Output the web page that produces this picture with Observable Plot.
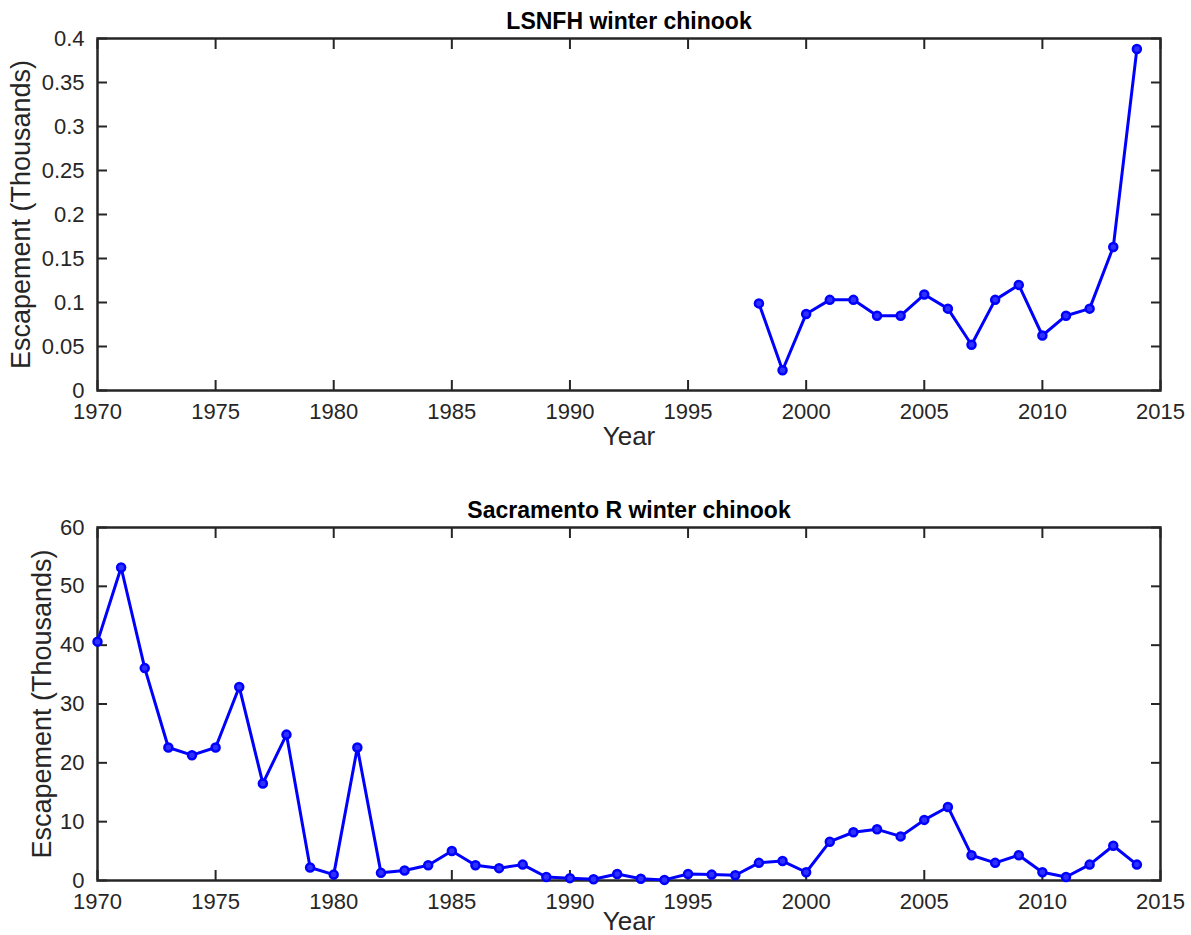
<!DOCTYPE html>
<html>
<head>
<meta charset="utf-8">
<script src="https://cdn.jsdelivr.net/npm/d3@7"></script>
<script src="https://cdn.jsdelivr.net/npm/@observablehq/plot@0.6"></script>
<style>
  html, body { margin: 0; padding: 0; background: #fff; }
  #wrap { width: 1191px; height: 935px; overflow: hidden; }
  svg { display: block; font-family: "Liberation Sans", Arial, Helvetica, sans-serif; }
</style>
</head>
<body>
<div id="wrap"></div>
<script>
// ---- data ----
const titleTop = "LSNFH winter chinook";
const titleBottom = "Sacramento R winter chinook";
const xLabel = "Year";
const yLabel = "Escapement (Thousands)";

const xTicks = [1970, 1975, 1980, 1985, 1990, 1995, 2000, 2005, 2010, 2015];
const yTicksTop = [0, 0.05, 0.1, 0.15, 0.2, 0.25, 0.3, 0.35, 0.4];
const yTicksBottom = [0, 10, 20, 30, 40, 50, 60];

const yearsLSNFH = [1998, 1999, 2000, 2001, 2002, 2003, 2004, 2005, 2006, 2007, 2008, 2009, 2010, 2011, 2012, 2013, 2014];
const escLSNFH = [0.099, 0.023, 0.087, 0.103, 0.103, 0.085, 0.085, 0.109, 0.093, 0.052, 0.103, 0.120, 0.0625, 0.085, 0.093, 0.163, 0.388];

const yearsSac = [1970, 1971, 1972, 1973, 1974, 1975, 1976, 1977, 1978, 1979,
                  1980, 1981, 1982, 1983, 1984, 1985, 1986, 1987, 1988, 1989,
                  1990, 1991, 1992, 1993, 1994, 1995, 1996, 1997, 1998, 1999,
                  2000, 2001, 2002, 2003, 2004, 2005, 2006, 2007, 2008, 2009,
                  2010, 2011, 2012, 2013, 2014];
const escSac = [40.6, 53.2, 36.1, 22.6, 21.3, 22.6, 32.9, 16.5, 24.8, 2.2,
                1.0, 22.6, 1.3, 1.7, 2.6, 5.0, 2.6, 2.1, 2.7, 0.6,
                0.4, 0.2, 1.1, 0.3, 0.1, 1.1, 1.0, 0.9, 3.0, 3.3,
                1.4, 6.6, 8.2, 8.7, 7.5, 10.3, 12.5, 4.3, 3.0, 4.3,
                1.4, 0.6, 2.7, 5.9, 2.7];

// ---- styling ----
const ink = "#262626";
const lineColor = "#0000ff";
const font = "\"Liberation Sans\", Arial, Helvetica, sans-serif";

function panel({years, values, yDomain, yTicks, yFmt, title, height, marginTop, marginBottom, yLabelDx, xLabelDy}) {
  const data = years.map((x, i) => ({x, y: values[i]}));
  return Plot.plot({
    width: 1191,
    height,
    marginLeft: 97,
    marginRight: 31,
    marginTop,
    marginBottom,
    style: {fontFamily: font, color: ink, background: "#fff", overflow: "visible"},
    x: {domain: [1970, 2015]},
    y: {domain: yDomain},
    marks: [
      Plot.axisX({anchor: "bottom", ticks: xTicks, tickFormat: d3.format("d"), tickSize: -10, tickPadding: 23, fontSize: 22, label: null, strokeWidth: 2, stroke: ink, fill: ink}),
      Plot.axisX({anchor: "top", ticks: xTicks, tickFormat: () => "", tickSize: -10, label: null, strokeWidth: 2, stroke: ink}),
      Plot.axisY({anchor: "left", ticks: yTicks, tickFormat: yFmt, tickSize: -10, tickPadding: 23, fontSize: 22, label: null, strokeWidth: 2, stroke: ink, fill: ink}),
      Plot.axisY({anchor: "right", ticks: yTicks, tickFormat: () => "", tickSize: -10, label: null, strokeWidth: 2, stroke: ink}),
      Plot.frame({stroke: ink, strokeWidth: 2.5}),
      Plot.line(data, {x: "x", y: "y", stroke: lineColor, strokeWidth: 3}),
      Plot.dot(data, {x: "x", y: "y", r: 4, stroke: lineColor, strokeWidth: 2.5, fill: "#3030ff"}),
      Plot.text([title], {frameAnchor: "top", dy: -10, lineAnchor: "bottom", fontSize: 23, fontWeight: "bold", fill: "#000"}),
      Plot.text([xLabel], {frameAnchor: "bottom", dy: xLabelDy, lineAnchor: "bottom", fontSize: 26, fill: ink}),
      Plot.text([yLabel], {frameAnchor: "left", dx: yLabelDx, rotate: -90, lineAnchor: "middle", textAnchor: "middle", fontSize: 27, fill: ink})
    ]
  });
}

const wrap = document.getElementById("wrap");
wrap.appendChild(panel({
  years: yearsLSNFH, values: escLSNFH, yDomain: [0, 0.4], yTicks: yTicksTop,
  yFmt: d => String(+d.toFixed(2)), title: titleTop,
  height: 467, marginTop: 38, marginBottom: 77, yLabelDx: -76, xLabelDy: 54
}));
wrap.appendChild(panel({
  years: yearsSac, values: escSac, yDomain: [0, 60], yTicks: yTicksBottom,
  yFmt: d3.format("d"), title: titleBottom,
  height: 468, marginTop: 60, marginBottom: 55, yLabelDx: -55, xLabelDy: 49
}));
</script>
</body>
</html>
